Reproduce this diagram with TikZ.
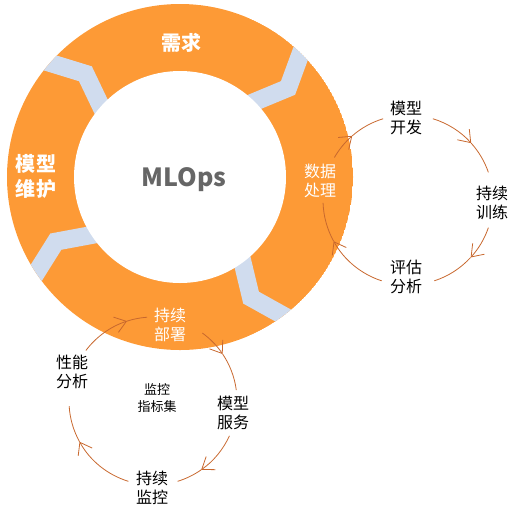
\documentclass[tikz,border=0pt]{standalone}
\usepackage{fontspec}
\setmainfont{Noto Sans CJK SC}
\usetikzlibrary{arrows.meta,calc}
\definecolor{ringorange}{HTML}{FD9A36}
\definecolor{chev}{HTML}{D0DCEE}
\definecolor{arcc}{HTML}{C8682E}
\definecolor{mlgray}{HTML}{666666}
\begin{document}
\begin{tikzpicture}[x=1pt,y=-1pt,
  txt/.style={align=center,inner sep=0pt,font=\fontsize{16}{19}\selectfont},
  wtxt/.style={txt,text=white},
  btxt/.style={align=center,inner sep=0pt,text=white,font=\bfseries\fontsize{20}{25}\selectfont},
  arcline/.style={draw=arcc,line width=0.8pt},
  tip/.style={arcline,-{Straight Barb[length=11pt,width=16pt]}}]
\useasboundingbox (0,0) rectangle (513,507);
\coordinate (c) at (180,177);
% ring
\begin{scope}
  \clip (c) circle (173pt);
  \fill[ringorange] (c) circle (173pt);
  \foreach \t in {48,141,216,309}
    \draw[chev,line width=18pt,line join=miter]
      ($(c)+(\t:190pt)$) -- ($(c)+(\t-8.5:140pt)$) -- ($(c)+(\t:95pt)$);
\end{scope}
\fill[white] (c) circle (106pt);
\node[inner sep=0pt,text=mlgray,font=\bfseries\fontsize{25}{30}\selectfont] (ml) at (184,180) {MLOps};
% ring labels
\node[btxt] (xq) at (181,43) {需求};
\node[btxt] (wh) at (36,176) {模型\\维护};
\node[wtxt] (sj) at (320,181) {数据\\处理};
\node[wtxt] (bs) at (170,325) {持续\\部署};
% right cycle
\coordinate (rc) at (408,200);
\node[txt] (kf) at (406,118) {模型\\开发};
\node[txt] (xl) at (492,203) {持续\\训练};
\node[txt] (pg) at (406,277) {评估\\分析};
\foreach \a/\m/\b in {150/131/107, 73/42/19, -19/-42.5/-72, -108/-151/-178}{
  \draw[tip] ($(rc)+(\a:85pt)$) arc[start angle=\a,end angle=\m,radius=85pt];
  \draw[arcline] ($(rc)+(\m:85pt)$) arc[start angle=\m,end angle=\b,radius=85pt];
}
% bottom-left cycle
\coordinate (lc) at (153,401);
\node[txt] (fw) at (233,413) {模型\\服务};
\node[txt] (jk) at (152,488) {持续\\监控};
\node[txt] (xn) at (72,372) {性能\\分析};
\node[align=center,inner sep=0pt,font=\fontsize{13}{17}\selectfont] (zb) at (157,398) {监控\\指标集};
\foreach \a/\m/\b in {54/34/7.5, -24.5/-55/-73, -107/-151/-176.5, 143/108/94}{
  \draw[tip] ($(lc)+(\a:84pt)$) arc[start angle=\a,end angle=\m,radius=84pt];
  \draw[arcline] ($(lc)+(\m:84pt)$) arc[start angle=\m,end angle=\b,radius=84pt];
}
\end{tikzpicture}
\end{document}
